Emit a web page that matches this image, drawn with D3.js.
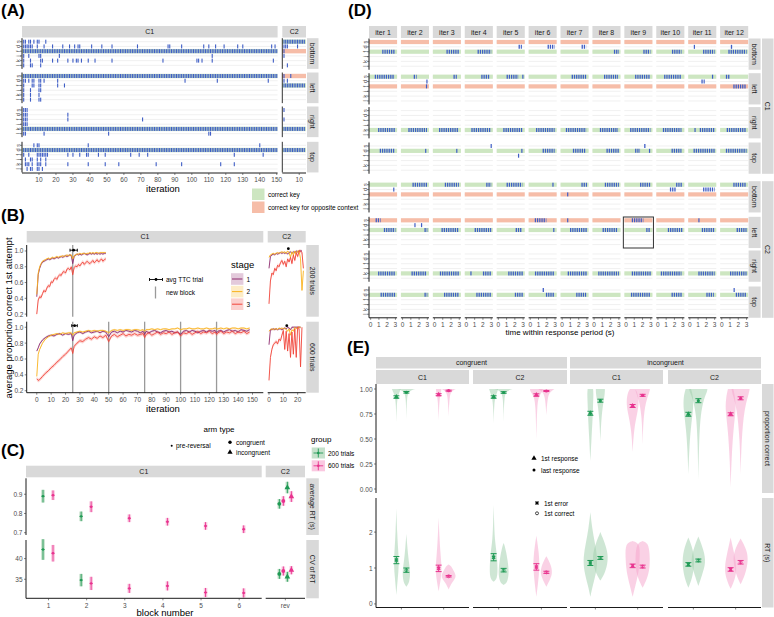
<!DOCTYPE html>
<html>
<head>
<meta charset="utf-8">
<script src="https://cdn.jsdelivr.net/npm/d3@7"></script>
<style>
body { margin: 0; background: #fff; }
svg { font-family: "Liberation Sans", Arial, sans-serif; }
</style>
</head>
<body>
<script>
// ---------- data ----------
const keys = ["s", "d", "f", "j", "k", "l"];
const arms = ["bottom", "left", "right", "top"];
const correctKey = {C1: {bottom: "f", left: "s", right: "k", top: "d"}, C2: {bottom: "s", left: "f", right: "k", top: "d"}};
const oppositeKey = {C1: {bottom: "s", left: "f"}, C2: {bottom: "f", left: "s"}};

// (A) key presses per iteration: [context, arm, key, iterations]
const aPresses = [
  ["C1", "bottom", "s", "1,2,4,5,7,9,10,14"],
  ["C1", "bottom", "d", "1-6,9,13,18,24,28,31,33,34,41,47,53,68,86,87,94,107,110,114,119,127,130,147,149"],
  ["C1", "bottom", "f", "1-150"],
  ["C1", "bottom", "j", "1,4,10,11,22,112"],
  ["C1", "bottom", "k", "1,5,11,12,18,21,27,30,32,33,35,39,43,53,83,103,104,106,112,148"],
  ["C1", "bottom", "l", "1,5,6,11"],
  ["C1", "left", "s", "1-150"],
  ["C1", "left", "d", "1,2,4,6,7,10,11,13,21,96,115,145"],
  ["C1", "left", "f", "1,6,7,10,11,21,25"],
  ["C1", "left", "j", "1,5,10,11"],
  ["C1", "left", "k", "1,5,10"],
  ["C1", "left", "l", "1,5,10,11"],
  ["C1", "right", "s", "1,2,3"],
  ["C1", "right", "d", "1,2,3,27"],
  ["C1", "right", "f", "1,2,3,27,71"],
  ["C1", "right", "j", "1,2,3"],
  ["C1", "right", "k", "1-150"],
  ["C1", "right", "l", "1,2,13,51,110,111"],
  ["C1", "top", "s", "7,9,10,39,140"],
  ["C1", "top", "d", "1-150"],
  ["C1", "top", "f", "1,4,9-15,27,30,34,38,39,45,49,64,69,74,125,142"],
  ["C1", "top", "j", "2,5,6,9,11,14"],
  ["C1", "top", "k", "2,3,4,6,9,10,11,14,27,39,49,57,79,94,117,125"],
  ["C1", "top", "l", "3,5,6,9,10,12"],
  ["C2", "bottom", "s", "1-13"],
  ["C2", "bottom", "d", "1,2,3,9"],
  ["C2", "bottom", "f", "1"],
  ["C2", "bottom", "j", "1"],
  ["C2", "bottom", "l", "3"],
  ["C2", "left", "s", "1,5"],
  ["C2", "left", "d", "1,3"],
  ["C2", "left", "f", "1-13"],
  ["C2", "right", "s", "1"],
  ["C2", "right", "f", "1"],
  ["C2", "right", "k", "1-13"],
  ["C2", "top", "d", "1-13"]
];

// (B) average proportion correct, stages 1..3
const bStages = ["1", "2", "3"];
const b200C1 = [
  [0.42,0.70,0.78,0.83,0.86,0.87,0.88,0.89,0.90,0.89,0.90,0.91,0.90,0.91,0.92,0.91,0.92,0.93,0.92,0.93,0.94,0.93,0.94,0.95,0.94,0.84,0.93,0.95,0.96,0.95,0.96,0.95,0.96,0.97,0.96,0.95,0.96,0.97,0.96,0.97,0.96,0.97,0.96,0.97,0.96,0.97,0.96,0.97,0.97],
  [0.45,0.72,0.80,0.84,0.87,0.88,0.89,0.90,0.91,0.90,0.91,0.92,0.91,0.92,0.93,0.92,0.93,0.93,0.94,0.93,0.94,0.95,0.94,0.95,0.95,0.90,0.94,0.95,0.96,0.96,0.97,0.96,0.97,0.97,0.96,0.97,0.97,0.98,0.97,0.98,0.97,0.98,0.98,0.97,0.98,0.98,0.98,0.98,0.98],
  [0.20,0.38,0.42,0.41,0.46,0.50,0.48,0.53,0.56,0.55,0.61,0.60,0.64,0.66,0.64,0.68,0.70,0.69,0.73,0.74,0.72,0.77,0.78,0.76,0.80,0.70,0.79,0.81,0.80,0.83,0.81,0.84,0.86,0.83,0.85,0.87,0.85,0.84,0.86,0.88,0.85,0.87,0.89,0.86,0.88,0.90,0.87,0.89,0.90]
];
const b600C1 = [
  [[0,.70],[1,.74],[2,.79],[4,.84],[6,.87],[8,.89],[10,.90],[12,.89],[14,.91],[16,.92],[18,.90],[20,.92],[22,.91],[24,.92],[25,.83],[26,.90],[28,.93],[30,.94],[32,.92],[34,.94],[36,.95],[38,.93],[40,.94],[42,.95],[44,.93],[46,.95],[48,.94],[50,.88],[52,.94],[54,.95],[56,.93],[58,.95],[60,.94],[62,.96],[64,.95],[66,.94],[68,.96],[70,.95],[72,.93],[74,.95],[75,.91],[76,.95],[78,.93],[80,.95],[82,.96],[84,.94],[86,.93],[88,.95],[90,.96],[92,.94],[94,.95],[96,.93],[98,.94],[100,.91],[102,.95],[104,.96],[106,.94],[108,.96],[110,.95],[112,.93],[114,.95],[116,.96],[118,.94],[120,.96],[122,.95],[124,.96],[125,.93],[126,.95],[128,.96],[130,.94],[132,.96],[134,.97],[136,.95],[138,.96],[140,.94],[142,.97],[144,.96],[146,.95],[148,.97]],
  [[0,.38],[1,.66],[2,.72],[4,.80],[6,.85],[8,.88],[10,.90],[12,.91],[14,.92],[16,.91],[18,.93],[20,.92],[22,.93],[24,.93],[25,.90],[26,.93],[28,.94],[30,.95],[32,.94],[34,.95],[36,.96],[38,.95],[40,.96],[42,.95],[44,.96],[46,.96],[48,.95],[50,.93],[52,.96],[54,.97],[56,.96],[58,.97],[60,.96],[62,.97],[64,.97],[66,.96],[68,.97],[70,.97],[72,.96],[74,.97],[75,.95],[76,.97],[78,.97],[80,.98],[82,.97],[84,.98],[86,.97],[88,.98],[90,.98],[92,.97],[94,.98],[96,.98],[98,.99],[100,.97],[102,.98],[104,.98],[106,.99],[108,.98],[110,.98],[112,.99],[114,.98],[116,.98],[118,.99],[120,.98],[122,.98],[124,.99],[125,.98],[126,.98],[128,.99],[130,.98],[132,.99],[134,.98],[136,.99],[138,.99],[140,.98],[142,.99],[144,.99],[146,.98],[148,.99]],
  [[0,.35],[1,.33],[2,.34],[4,.38],[6,.42],[8,.45],[10,.49],[12,.52],[14,.56],[16,.59],[18,.63],[20,.66],[22,.70],[24,.74],[25,.67],[26,.76],[28,.80],[30,.83],[32,.82],[34,.85],[36,.87],[38,.85],[40,.88],[42,.86],[44,.89],[46,.87],[48,.90],[50,.82],[52,.89],[54,.91],[56,.88],[58,.90],[60,.92],[62,.89],[64,.91],[66,.90],[68,.92],[70,.90],[72,.91],[74,.92],[75,.87],[76,.91],[78,.93],[80,.90],[82,.92],[84,.94],[86,.91],[88,.93],[90,.92],[92,.94],[94,.91],[96,.93],[98,.94],[100,.89],[102,.93],[104,.92],[106,.94],[108,.91],[110,.93],[112,.95],[114,.92],[116,.94],[118,.93],[120,.95],[122,.92],[124,.94],[125,.91],[126,.93],[128,.95],[130,.92],[132,.94],[134,.93],[136,.95],[138,.92],[140,.94],[142,.93],[144,.95],[146,.92],[148,.94]]
];
const b200C2 = [
  [0.78,0.93,0.95,0.96,0.95,0.97,0.96,0.97,0.98,0.97,0.98,0.97,0.98,0.96,0.98,0.99,0.97,0.99,0.98,1.0,0.99,1.0,1.0,1.0],
  [0.92,0.95,0.96,0.97,0.96,0.97,0.98,0.97,0.98,0.99,0.98,0.99,0.97,1.0,0.98,0.92,0.99,0.95,1.0,0.96,1.0,1.0,0.9,0.5,0.75],
  [0.33,0.62,0.72,0.70,0.78,0.75,0.82,0.80,0.85,0.88,0.83,0.87,0.80,0.90,0.86,0.92,0.84,0.95,0.88,0.98,0.93,1.0,1.0,0.98,0.78]
];
const b600C2 = [
  [0.78,0.97,0.97,0.98,0.97,0.98,0.97,0.98,0.98,0.97,0.98,0.99,0.98,1.0,0.99,0.97,1.0,1.0,1.0,1.0,1.0,1.0,1.0],
  [0.95,0.97,0.98,0.97,0.98,0.98,0.97,0.99,0.98,0.99,0.98,0.99,0.97,0.95,0.98,0.90,0.97,0.95,1.0,0.98,1.0,1.0,1.0],
  [0.33,0.62,0.72,0.78,0.80,0.82,0.79,0.85,0.83,0.90,0.96,0.72,0.95,0.70,0.92,0.62,0.94,0.66,0.98,0.62,1.0,0.98,0.50,1.0]
];
const bSE = [0.015, 0.012, 0.025];
const bBlocks200 = [25];
const bBlocks600 = [25, 50, 75, 100, 125];
// avg TTC trial: [group, context, centre, from, to, value]
const bTTC = [["200", "C1", 25.6, 23.1, 28.2, 1.01], ["600", "C1", 26.3, 24.3, 28.2, 1.02], ["200", "C2", 13.5, 13.5, 13.5, 1.03], ["600", "C2", 12.4, 12.4, 12.4, 1.02]];

// (C) [block, mean, error]
const cBlocks = [1, 2, 3, 4, 5, 6];
const cRT200 = [[1, 0.89, 0.033], [2, 0.785, 0.025]];
const cRT600 = [[1, 0.895, 0.025], [2, 0.835, 0.028], [3, 0.775, 0.02], [4, 0.757, 0.02], [5, 0.735, 0.02], [6, 0.718, 0.02]];
const cCV200 = [[1, 42.2, 2.5], [2, 34.8, 1.5]];
const cCV600 = [[1, 41.3, 2.0], [2, 34.0, 1.6], [3, 32.8, 1.1], [4, 33.4, 1.1], [5, 31.8, 1.1], [6, 31.7, 1.1]];
// reversal: [group, arm type, mean, error]
const cRevRT = [["200", "congruent", 0.85, 0.025], ["600", "congruent", 0.865, 0.025], ["200", "incongruent", 0.935, 0.03], ["600", "incongruent", 0.888, 0.028]];
const cRevCV = [["200", "congruent", 36.3, 1.2], ["600", "congruent", 37.0, 1.1], ["200", "incongruent", 35.6, 1.2], ["600", "incongruent", 37.2, 1.0]];

// (D) responses within period: [context, arm, iteration, key, from (s), to (s)]
const dIters = [1, 2, 3, 4, 5, 6, 7, 8, 9, 10, 11, 12];
const dRuns = [
  ["C1","bottom",1,"f",1.4,3.0],["C1","bottom",3,"f",1.45,2.95],["C1","bottom",4,"f",1.35,3.0],["C1","bottom",5,"d",2.45,2.85],["C1","bottom",6,"d",2.1,2.95],["C1","bottom",7,"d",2.35,2.9],["C1","bottom",8,"f",2.4,3.0],["C1","bottom",9,"f",2.1,2.95],["C1","bottom",10,"f",1.7,2.85],["C1","bottom",11,"d",0.55,0.55],["C1","bottom",11,"f",1.6,3.0],["C1","bottom",12,"d",1.1,1.3],["C1","bottom",12,"f",0.8,3.0],
  ["C1","left",1,"s",0.5,2.9],["C1","left",2,"s",1.35,1.7],["C1","left",2,"d",2.95,2.95],["C1","left",2,"f",2.9,2.9],["C1","left",3,"s",2.3,2.7],["C1","left",4,"s",1.8,2.8],["C1","left",5,"s",1.0,2.4],["C1","left",5,"s",2.97,2.97],["C1","left",7,"s",1.15,2.9],["C1","left",8,"s",1.2,2.9],["C1","left",9,"s",1.1,2.95],["C1","left",10,"s",0.75,2.85],["C1","left",11,"s",2.75,2.75],["C1","left",11,"d",1.4,1.8],["C1","left",12,"s",0.5,1.0],["C1","left",12,"f",1.4,3.0],
  ["C1","right",1,"k",0.9,3.0],["C1","right",2,"k",0.7,2.95],["C1","right",3,"k",0.55,2.95],["C1","right",4,"k",0.6,3.0],["C1","right",5,"k",0.6,2.97],["C1","right",6,"k",0.7,2.95],["C1","right",7,"k",0.45,2.9],["C1","right",8,"k",0.7,2.9],["C1","right",9,"k",0.5,2.95],["C1","right",10,"k",0.6,2.85],["C1","right",11,"k",0.63,0.63],["C1","right",11,"k",1.2,3.0],["C1","right",12,"k",0.6,3.0],
  ["C1","top",1,"d",1.1,2.9],["C1","top",2,"d",2.8,2.8],["C1","top",3,"d",2.7,2.7],["C1","top",4,"s",3.0,3.0],["C1","top",5,"d",2.85,2.85],["C1","top",5,"f",2.45,2.45],["C1","top",6,"d",1.5,2.95],["C1","top",7,"d",1.3,2.9],["C1","top",8,"d",1.5,3.0],["C1","top",9,"d",1.1,1.7],["C1","top",9,"d",2.85,2.85],["C1","top",9,"s",2.2,2.4],["C1","top",10,"d",1.65,2.85],["C1","top",11,"d",0.45,3.0],["C1","top",12,"d",0.5,3.0],
  ["C2","bottom",1,"d",2.8,2.8],["C2","bottom",2,"s",1.2,3.0],["C2","bottom",3,"s",1.25,2.95],["C2","bottom",4,"s",2.4,3.0],["C2","bottom",5,"s",1.0,2.9],["C2","bottom",6,"s",2.75,2.75],["C2","bottom",7,"s",2.33,3.0],["C2","bottom",7,"f",0.67,0.67],["C2","bottom",8,"s",1.3,3.0],["C2","bottom",9,"s",1.7,3.0],["C2","bottom",10,"s",2.2,3.0],["C2","bottom",10,"d",1.45,2.2],["C2","bottom",11,"d",1.6,3.0],["C2","bottom",12,"s",1.4,3.0],
  ["C2","left",1,"s",0.6,1.2],["C2","left",1,"f",1.6,3.0],["C2","left",2,"d",1.5,1.5],["C2","left",2,"d",2.3,2.3],["C2","left",2,"f",2.65,3.0],["C2","left",3,"f",0.85,2.95],["C2","left",4,"f",1.0,3.0],["C2","left",5,"f",2.1,2.9],["C2","left",6,"s",0.55,1.95],["C2","left",6,"f",2.85,2.85],["C2","left",7,"s",0.67,0.67],["C2","left",7,"f",0.95,3.0],["C2","left",8,"f",1.03,2.9],["C2","left",9,"s",0.7,2.1],["C2","left",9,"f",2.45,2.95],["C2","left",10,"f",1.2,2.95],["C2","left",11,"s",1.1,1.1],["C2","left",11,"f",1.45,3.0],["C2","left",12,"f",1.8,3.0],
  ["C2","right",1,"k",0.9,3.0],["C2","right",2,"k",1.08,2.95],["C2","right",3,"k",0.65,3.0],["C2","right",4,"k",0.55,0.55],["C2","right",4,"k",2.0,3.0],["C2","right",5,"k",1.2,2.97],["C2","right",6,"k",0.57,2.95],["C2","right",7,"k",0.67,3.0],["C2","right",8,"k",0.5,3.0],["C2","right",9,"k",0.7,3.0],["C2","right",10,"k",0.35,2.85],["C2","right",11,"k",1.03,3.0],["C2","right",12,"k",1.0,3.0],
  ["C2","top",1,"d",1.2,3.0],["C2","top",2,"d",2.65,3.0],["C2","top",3,"d",1.15,2.95],["C2","top",4,"d",1.2,3.0],["C2","top",5,"d",2.0,2.97],["C2","top",6,"s",1.5,1.75],["C2","top",6,"d",1.9,2.95],["C2","top",7,"d",1.7,2.9],["C2","top",9,"d",0.6,2.95],["C2","top",10,"d",1.65,2.95],["C2","top",11,"d",2.0,2.9],["C2","top",12,"s",1.5,1.5],["C2","top",12,"d",1.7,3.0]
];

// (E) cells and groups; per cell order: 200 1st, 200 last, 600 1st, 600 last
const eCells = [["congruent", "C1"], ["congruent", "C2"], ["incongruent", "C1"], ["incongruent", "C2"]];
const eGroups = ["200 trials", "600 trials"];
const ePropMean = [[0.92, 0.967, 0.943, 0.983], [0.92, 0.965, 0.94, 0.98], [0.757, 0.883, 0.83, 0.937], [0.747, 0.883, 0.747, 0.907]];
const ePropSE = [[0.012, 0.008, 0.01, 0.005], [0.012, 0.008, 0.012, 0.005], [0.02, 0.015, 0.015, 0.01], [0.02, 0.02, 0.015, 0.015]];
const eRTMean = [[1.22, 0.94, 0.99, 0.77], [1.3, 0.94, 1.03, 0.88], [1.14, 1.28, 1.06, 1.04], [1.1, 1.21, 0.96, 1.16]];
const eRTSE = [[0.1, 0.06, 0.09, 0.02], [0.1, 0.05, 0.09, 0.03], [0.07, 0.04, 0.05, 0.04], [0.05, 0.04, 0.05, 0.05]];
// violin outlines: [value, relative density]
const ePropViolin = [
  [[[0.67,0],[0.85,0.05],[0.92,0.15],[0.97,0.35],[1.0,0.5]], [[0.70,0],[0.93,0.05],[0.98,0.3],[1.0,1.0]], [[0.69,0],[0.9,0.08],[0.95,0.25],[1.0,0.3]], [[0.73,0],[0.95,0.1],[0.98,0.4],[1.0,0.8]]],
  [[[0.66,0],[0.85,0.06],[0.92,0.2],[0.97,0.4],[1.0,0.5]], [[0.68,0],[0.93,0.06],[0.98,0.35],[1.0,1.0]], [[0.50,0],[0.85,0.08],[0.93,0.3],[0.98,0.7],[1.0,0.7]], [[0.74,0],[0.95,0.15],[0.98,0.6],[1.0,0.9]]],
  [[[0.28,0],[0.5,0.12],[0.7,0.25],[0.85,0.3],[0.95,0.35],[1.0,0.3]], [[0.48,0],[0.7,0.1],[0.85,0.3],[0.95,0.5],[1.0,0.5]], [[0.37,0],[0.6,0.15],[0.75,0.5],[0.85,0.7],[0.95,0.6],[1.0,0.3]], [[0.45,0],[0.75,0.1],[0.9,0.45],[0.98,0.8],[1.0,0.8]]],
  [[[0.15,0],[0.4,0.1],[0.6,0.25],[0.8,0.55],[0.92,0.55],[1.0,0.3]], [[0.10,0],[0.5,0.08],[0.75,0.25],[0.9,0.6],[0.98,1.0],[1.0,1.0]], [[0.02,0],[0.3,0.1],[0.6,0.3],[0.8,0.6],[0.92,0.5],[1.0,0.3]], [[0.15,0],[0.5,0.1],[0.8,0.4],[0.95,0.9],[1.0,1.0]]]
];
const eRTViolin = [
  [[[0.25,0],[0.7,0.15],[1.1,0.3],[1.5,0.2],[2.0,0.08],[2.65,0]], [[0.48,0],[0.6,0.35],[0.9,0.45],[1.2,0.25],[1.6,0.1],[1.95,0]], [[0.35,0],[0.7,0.25],[1.0,0.35],[1.4,0.2],[1.9,0.08],[2.4,0]], [[0.4,0],[0.6,0.35],[0.75,0.9],[0.9,0.6],[1.05,0.3],[1.1,0]]],
  [[[0.62,0],[0.7,0.4],[1.0,0.45],[1.4,0.35],[1.8,0.12],[2.3,0.05],[2.75,0]], [[0.53,0],[0.6,0.45],[0.9,0.6],[1.2,0.45],[1.5,0.25],[1.7,0]], [[0.2,0],[0.6,0.2],[1.0,0.35],[1.4,0.3],[1.9,0]], [[0.48,0],[0.65,0.35],[0.85,0.7],[1.1,0.5],[1.33,0]]],
  [[[0.2,0],[0.5,0.25],[0.9,0.7],[1.3,0.8],[1.7,0.5],[2.1,0.2],[2.55,0]], [[0.65,0],[0.8,0.4],[1.1,0.8],[1.4,0.85],[1.7,0.5],[2.0,0]], [[0.2,0],[0.5,0.3],[0.9,0.7],[1.3,0.8],[1.7,0.8],[1.75,0]], [[0.45,0],[0.7,0.5],[1.0,0.8],[1.4,0.8],[1.7,0.6],[1.75,0]]],
  [[[0.45,0],[0.7,0.4],[1.1,0.7],[1.5,0.55],[1.85,0]], [[0.5,0],[0.8,0.4],[1.15,0.85],[1.5,0.6],[1.88,0]], [[0.42,0],[0.7,0.5],[1.0,0.7],[1.4,0.4],[1.85,0]], [[0.55,0],[0.8,0.5],[1.2,0.85],[1.5,0.7],[1.82,0]]]
];

// ---------- setup ----------
const svg = d3.select("body").append("svg").attr("width", 774).attr("height", 617);
const STRIP = "#D9D9D9", TXT = "#4D4D4D", BLUE = "#3F5EC6", GBAND = "#CDE6C1", SBAND = "#F6BDA8";
const stageCol = ["#8E2D6F", "#F9B21E", "#F1453A"];
const grpCol = {"200": "#1F9A55", "600": "#E8338E"};
const grpLight = {"200": "#9ECDA9", "600": "#F6A3CB"};

function strip(x, y, w, h, label, vertical) {
  svg.append("rect").attr("x", x).attr("y", y).attr("width", w).attr("height", h).attr("fill", STRIP);
  const t = svg.append("text").attr("font-size", 7).attr("fill", "#1a1a1a")
    .attr("text-anchor", "middle").attr("dominant-baseline", "central").text(label);
  if (vertical) t.attr("transform", `translate(${x + w / 2},${y + h / 2}) rotate(90)`);
  else t.attr("x", x + w / 2).attr("y", y + h / 2);
}
function line(x1, y1, x2, y2, col, w) {
  return svg.append("line").attr("x1", x1).attr("y1", y1).attr("x2", x2).attr("y2", y2)
    .attr("stroke", col || "#000").attr("stroke-width", w || 0.8);
}
function label(x, y, s, size, anchor, col) {
  return svg.append("text").attr("x", x).attr("y", y).attr("font-size", size || 7)
    .attr("fill", col || TXT).attr("text-anchor", anchor || "middle").attr("dominant-baseline", "central").text(s);
}
function panelLabel(s, x, y) {
  svg.append("text").attr("x", x).attr("y", y).attr("font-size", 17).attr("font-weight", "bold").text(s);
}
function parseRuns(str) {
  return str.split(",").flatMap(p => {
    const [a, b] = p.split("-").map(Number);
    return b ? d3.range(a, b + 1) : [a];
  });
}
// rotated key letters on a y axis
function keyAxis(xAxis, yScale) {
  const [y0, y1] = yScale.range();
  line(xAxis, y0 - 3.5, xAxis, y1 + 3.5, "#000", 0.9);
  keys.forEach(k => {
    line(xAxis - 2, yScale(k), xAxis, yScale(k), "#333", 0.6);
    svg.append("text").attr("font-size", 5.5).attr("fill", TXT).attr("text-anchor", "middle")
      .attr("dominant-baseline", "central")
      .attr("transform", `translate(${xAxis - 4.5},${yScale(k)}) rotate(-90)`).text(k);
  });
}

// ---------- (A) ----------
panelLabel("(A)", 1, 16);
const aX = {
  C1: d3.scaleLinear().domain([0, 150.5]).range([22, 277.6]),
  C2: d3.scaleLinear().domain([0, 14]).range([282.3, 306])
};
const aArmY = {bottom: 41.7, left: 76, right: 110, top: 145.3};
strip(22, 26, 255.6, 11.5, "C1");
strip(282.3, 26, 23.7, 11.5, "C2");
arms.forEach(arm => {
  const y = d3.scalePoint().domain(keys).range([aArmY[arm], aArmY[arm] + 5 * 4.73]);
  ["C1", "C2"].forEach(ctx => {
    const [xa, xb] = aX[ctx].range();
    keys.forEach(k => line(xa, y(k), xb, y(k), "#E6E6E6", 0.6));
    svg.append("rect").attr("x", xa).attr("y", y(correctKey[ctx][arm]) - 2.2).attr("width", xb - xa).attr("height", 4.4).attr("fill", GBAND);
    if (ctx === "C2" && oppositeKey.C2[arm])
      svg.append("rect").attr("x", xa).attr("y", y(oppositeKey.C2[arm]) - 2.2).attr("width", xb - xa).attr("height", 4.4).attr("fill", SBAND);
    aPresses.filter(p => p[0] === ctx && p[1] === arm).forEach(p => {
      svg.selectAll(null).data(parseRuns(p[3])).enter().append("rect")
        .attr("x", d => aX[ctx](d) - 0.55).attr("y", y(p[2]) - 2).attr("width", 1.1).attr("height", 4).attr("fill", BLUE);
    });
  });
  keyAxis(22, y);
  line(282.3, y("s") - 3.5, 282.3, y("l") + 3.5, "#000", 0.8);
  strip(307, y("s") - 3.5, 11.5, y("l") - y("s") + 7, arm, true);
});
line(22, 173, 277.6, 173, "#000", 0.9);
line(282.3, 173, 306, 173, "#000", 0.9);
d3.range(10, 151, 10).forEach(t => { line(aX.C1(t), 173, aX.C1(t), 175, "#333", 0.6); label(aX.C1(t), 179.5, t, 6.5); });
line(aX.C2(10), 173, aX.C2(10), 175, "#333", 0.6); label(aX.C2(10), 179.5, 10, 6.5);
label(163, 188.5, "iteration", 9.5, "middle", "#000");
// key legend
svg.append("rect").attr("x", 252).attr("y", 188.5).attr("width", 12.5).attr("height", 11.5).attr("fill", GBAND);
svg.append("rect").attr("x", 252).attr("y", 201.5).attr("width", 12.5).attr("height", 11.5).attr("fill", SBAND);
label(268, 194.5, "correct key", 6.5, "start", "#000");
label(268, 207.3, "correct key for opposite context", 6.5, "start", "#000");

// ---------- (B) ----------
panelLabel("(B)", 1, 221);
const bX = {
  C1: d3.scaleLinear().domain([-7, 157.5]).range([26.7, 263.3]),
  C2: d3.scaleLinear().domain([-0.9, 25.6]).range([267.7, 305.7])
};
const bY = {
  "200": d3.scaleLinear().domain([0.167, 1.076]).range([316.7, 245]),
  "600": d3.scaleLinear().domain([0.175, 1.07]).range([392.7, 321.7])
};
strip(26.7, 231, 236.6, 11.5, "C1");
strip(267.7, 231, 38, 11.5, "C2");
strip(306.3, 245, 12.5, 71.7, "200 trials", true);
strip(306.3, 321.7, 12.5, 71, "600 trials", true);
const bSeries = {"200": {C1: b200C1.map(s => s.map((v, i) => [i, v])), C2: b200C2.map(s => s.map((v, i) => [i, v]))},
                 "600": {C1: b600C1, C2: b600C2.map(s => s.map((v, i) => [i, v]))}};
["200", "600"].forEach(g => {
  const y = bY[g];
  const [yb, yt] = y.range();
  (g === "200" ? bBlocks200 : bBlocks600).forEach(b => line(bX.C1(b), yt, bX.C1(b), yb, "#9A9A9A", 1.3));
  ["C1", "C2"].forEach(ctx => {
    const x = bX[ctx];
    bSeries[g][ctx].forEach((s, si) => {
      svg.append("path").datum(s).attr("fill", stageCol[si]).attr("opacity", 0.22)
        .attr("d", d3.area().x(d => x(d[0])).y0(d => y(d[1] - bSE[si])).y1(d => y(Math.min(d[1] + bSE[si], 1.02))));
    });
    bSeries[g][ctx].forEach((s, si) => {
      svg.append("path").datum(s).attr("fill", "none").attr("stroke", stageCol[si]).attr("stroke-width", 0.9)
        .attr("d", d3.line().x(d => x(d[0])).y(d => y(d[1])));
    });
  });
  bTTC.filter(t => t[0] === g).forEach(t => {
    const x = bX[t[1]];
    if (t[4] > t[3]) {
      line(x(t[3]), y(t[5]), x(t[4]), y(t[5]), "#000", 0.9);
      line(x(t[3]), y(t[5]) - 1.5, x(t[3]), y(t[5]) + 1.5, "#000", 0.9);
      line(x(t[4]), y(t[5]) - 1.5, x(t[4]), y(t[5]) + 1.5, "#000", 0.9);
    }
    svg.append("circle").attr("cx", x(t[2])).attr("cy", y(t[5])).attr("r", 1.4).attr("fill", "#000");
  });
  line(26.7, yt, 26.7, yb, "#000", 0.9);
  [0.2, 0.4, 0.6, 0.8, 1.0].forEach(v => { line(24.7, y(v), 26.7, y(v), "#333", 0.6); label(23.5, y(v), v.toFixed(1), 6.5, "end"); });
});
line(26.7, 392.7, 263.3, 392.7, "#000", 0.9);
line(267.7, 392.7, 305.7, 392.7, "#000", 0.9);
d3.range(0, 151, 10).forEach(t => { line(bX.C1(t), 392.7, bX.C1(t), 394.7, "#333", 0.6); label(bX.C1(t), 399.5, t, 6.5); });
[0, 10, 20].forEach(t => { line(bX.C2(t), 392.7, bX.C2(t), 394.7, "#333", 0.6); label(bX.C2(t), 399.5, t, 6.5); });
label(163, 408.5, "iteration", 9.5, "middle", "#000");
svg.append("text").attr("font-size", 9.5).attr("text-anchor", "middle").attr("dominant-baseline", "central")
  .attr("transform", "translate(8,318) rotate(-90)").text("average proportion correct 1st attempt");
// B legend
line(149.5, 279.5, 162.5, 279.5, "#000", 0.9);
line(149.5, 278, 149.5, 281, "#000", 0.9);
line(162.5, 278, 162.5, 281, "#000", 0.9);
svg.append("circle").attr("cx", 156).attr("cy", 279.5).attr("r", 1.4);
label(166, 279.5, "avg TTC trial", 6.5, "start", "#000");
line(155.5, 286.5, 155.5, 298.5, "#9A9A9A", 1.3);
label(166, 292.5, "new block", 6.5, "start", "#000");
label(231, 264, "stage", 9.5, "start", "#000");
bStages.forEach((s, i) => {
  const yy = 279 + i * 12.6;
  svg.append("rect").attr("x", 231).attr("y", yy - 5.8).attr("width", 12.4).attr("height", 11.6).attr("fill", stageCol[i]).attr("opacity", 0.25);
  line(232, yy, 242.4, yy, stageCol[i], 1);
  label(246.5, yy, s, 6.5, "start", "#000");
});

// ---------- (C) ----------
panelLabel("(C)", 1, 456);
const cX = d3.scaleLinear().domain([0.41, 6.59]).range([26, 261.7]);
const cXRev = d3.scalePoint().domain(["rev"]).range([265.7, 305]).padding(0.5);
const cY = {
  rt: d3.scaleLinear().domain([0.688, 0.983]).range([535, 478.3]),
  cv: d3.scaleLinear().domain([30.4, 44.5]).range([598.3, 540])
};
strip(26, 465.7, 235.7, 11.6, "C1");
strip(265.7, 465.7, 39.3, 11.6, "C2");
strip(306.3, 478.3, 12.5, 56.7, "average RT (s)", true);
strip(306.3, 540, 12.5, 58.3, "CV of RT", true);
function cRange(x, y, m, e, g, shape) {
  svg.append("rect").attr("x", x - 1.8).attr("y", y(m + e)).attr("width", 3.6).attr("height", y(m - e) - y(m + e))
    .attr("fill", grpLight[g]).attr("opacity", 0.6);
  line(x, y(m + e), x, y(m - e), grpCol[g], 0.9);
  if (shape === "triangle")
    svg.append("path").attr("d", d3.symbol(d3.symbolTriangle, 14)()).attr("transform", `translate(${x},${y(m)})`).attr("fill", grpCol[g]);
  else
    svg.append("circle").attr("cx", x).attr("cy", y(m)).attr("r", shape === "circle" ? 1.9 : 1.2).attr("fill", grpCol[g]);
  line(x - 1.6, y(m), x + 1.6, y(m), grpCol[g], 0.9);
}
[["rt", cRT200, cRT600, cRevRT], ["cv", cCV200, cCV600, cRevCV]].forEach(([m, d200, d600, rev]) => {
  const y = cY[m];
  d200.forEach(d => cRange(cX(d[0]) - 5.5, y, d[1], d[2], "200", "dot"));
  d600.forEach(d => cRange(cX(d[0]) + 4.5, y, d[1], d[2], "600", "dot"));
  rev.forEach((d, i) => cRange(cXRev("rev") + (i - 1.5) * 4, y, d[2], d[3], d[0], d[1] === "congruent" ? "circle" : "triangle"));
  const [yb, yt] = y.range();
  line(26, yt, 26, yb, "#000", 0.9);
});
[0.7, 0.8, 0.9].forEach(v => { line(24, cY.rt(v), 26, cY.rt(v), "#333", 0.6); label(22.5, cY.rt(v), v.toFixed(1), 6.5, "end"); });
[35, 40].forEach(v => { line(24, cY.cv(v), 26, cY.cv(v), "#333", 0.6); label(22.5, cY.cv(v), v, 6.5, "end"); });
line(26, 598.3, 261.7, 598.3, "#000", 0.9);
line(265.7, 598.3, 305, 598.3, "#000", 0.9);
cBlocks.forEach(b => { line(cX(b), 598.3, cX(b), 600.3, "#333", 0.6); label(cX(b), 605, b, 6.5); });
line(cXRev("rev"), 598.3, cXRev("rev"), 600.3, "#333", 0.6); label(cXRev("rev"), 605, "rev", 6.5);
label(165, 612.5, "block number", 9.5, "middle", "#000");
// C legend
label(219, 429, "arm type", 8, "middle", "#000");
svg.append("circle").attr("cx", 171.7).attr("cy", 445.7).attr("r", 1).attr("fill", "#000");
label(176, 445.7, "pre-reversal", 6.5, "start", "#000");
svg.append("circle").attr("cx", 230).attr("cy", 442.3).attr("r", 1.7).attr("fill", "#000");
label(236, 442.3, "congruent", 6.5, "start", "#000");
svg.append("path").attr("d", d3.symbol(d3.symbolTriangle, 12)()).attr("transform", "translate(230,452.3)");
label(236, 452.3, "incongruent", 6.5, "start", "#000");
label(311, 439, "group", 8, "start", "#000");
["200", "600"].forEach((g, i) => {
  const yy = 453 + i * 12.8;
  svg.append("rect").attr("x", 311.7).attr("y", yy - 5.5).attr("width", 13.3).attr("height", 11).attr("fill", grpLight[g]).attr("opacity", 0.6);
  line(318.3, yy - 4.5, 318.3, yy + 4.5, grpCol[g], 0.9);
  line(313.5, yy, 323.2, yy, grpCol[g], 0.9);
  svg.append("circle").attr("cx", 318.3).attr("cy", yy).attr("r", 1.3).attr("fill", grpCol[g]);
  label(328, yy, g + " trials", 6.5, "start", "#000");
});

// ---------- (D) ----------
svg.append("rect").attr("x", 341).attr("y", 0).attr("width", 433).attr("height", 336).attr("fill", "none");
panelLabel("(D)", 348, 16);
const dFacet = d3.scaleBand().domain(dIters).range([369, 748.2]).paddingInner(0.12);
const dArmY = {C1: {bottom: 42, left: 76.7, right: 110.6, top: 146}, C2: {bottom: 184.7, left: 220.3, right: 254, top: 290}};
const dRowGap = 4.85;
dIters.forEach(i => strip(dFacet(i), 26, dFacet.bandwidth(), 12, "iter " + i));
["C1", "C2"].forEach(ctx => {
  arms.forEach(arm => {
    const y = d3.scalePoint().domain(keys).range([dArmY[ctx][arm], dArmY[ctx][arm] + 5 * dRowGap]);
    dIters.forEach(i => {
      const x0 = dFacet(i), bw = dFacet.bandwidth();
      const t = d3.scaleLinear().domain([-0.2, 3.2]).range([x0, x0 + bw]);
      keys.forEach(k => line(x0, y(k), x0 + bw, y(k), "#E6E6E6", 0.6));
      svg.append("rect").attr("x", x0).attr("y", y(correctKey[ctx][arm]) - 2.1).attr("width", bw).attr("height", 4.2).attr("fill", GBAND);
      if (oppositeKey[ctx][arm])
        svg.append("rect").attr("x", x0).attr("y", y(oppositeKey[ctx][arm]) - 2.1).attr("width", bw).attr("height", 4.2).attr("fill", SBAND);
      dRuns.filter(r => r[0] === ctx && r[1] === arm && r[2] === i).forEach(r => {
        if (r[5] - r[4] < 0.05)
          svg.append("rect").attr("x", t(r[4]) - 0.6).attr("y", y(r[3]) - 2).attr("width", 1.2).attr("height", 4).attr("fill", BLUE);
        else
          line(t(r[4]), y(r[3]), t(r[5]), y(r[3]), BLUE, 4).attr("stroke-dasharray", "1.3,0.9");
      });
    });
    keyAxis(369, y);
    strip(748.6, y("s") - 3.5, 12, y("l") - y("s") + 7, arm, true);
  });
});
strip(762, 38.5, 11.5, 173.8 - 38.5, "C1", true);
strip(762, 181.2, 11.5, 317.8 - 181.2, "C2", true);
dIters.forEach(i => {
  const x0 = dFacet(i), bw = dFacet.bandwidth();
  const t = d3.scaleLinear().domain([-0.2, 3.2]).range([x0, x0 + bw]);
  line(x0, 317.8, x0 + bw, 317.8, "#000", 0.9);
  [0, 1, 2, 3].forEach(v => { line(t(v), 317.8, t(v), 319.8, "#333", 0.6); label(t(v), 324, v, 6.5); });
});
label(560, 332.5, "time within response period (s)", 8, "middle", "#000");
svg.append("rect").attr("x", dFacet(9) - 1).attr("y", 217).attr("width", dFacet.bandwidth() + 2).attr("height", 31)
  .attr("fill", "none").attr("stroke", "#333").attr("stroke-width", 1);

// ---------- (E) ----------
panelLabel("(E)", 347, 353);
const eSub = [[376, 469], [473, 567], [570, 663], [668, 761]];
const eY = {
  prop: d3.scaleLinear().domain([-0.04, 1.05]).range([493, 384]),
  rt: d3.scaleLinear().domain([-0.1, 2.95]).range([607.5, 498])
};
strip(376, 357, 191, 11.5, "congruent");
strip(570, 357, 191, 11.5, "incongruent");
eCells.forEach((c, ci) => strip(eSub[ci][0], 370, eSub[ci][1] - eSub[ci][0], 14, c[1]));
strip(762, 384, 11.5, 109, "proportion correct", true);
strip(762, 498, 11.5, 109.5, "RT (s)", true);
const eX = d3.scalePoint().domain(eGroups).padding(0.6);
[["prop", ePropViolin, ePropMean, ePropSE], ["rt", eRTViolin, eRTMean, eRTSE]].forEach(([m, viol, mean, se]) => {
  const y = eY[m];
  eCells.forEach((c, ci) => {
    eX.range(eSub[ci]);
    eGroups.forEach((g, gi) => {
      const gk = g.slice(0, 3);
      [0, 1].forEach(ri => {
        const cx = eX(g) + (ri ? 5 : -5);
        svg.append("path").datum(viol[ci][gi * 2 + ri]).attr("fill", grpLight[gk]).attr("opacity", 0.5)
          .attr("d", d3.area().curve(d3.curveBasis).y(d => y(d[0])).x0(d => cx - d[1] * 9).x1(d => cx + d[1] * 9));
      });
    });
    eGroups.forEach((g, gi) => {
      const gk = g.slice(0, 3);
      [0, 1].forEach(ri => {
        const cx = eX(g) + (ri ? 5 : -5);
        const mu = mean[ci][gi * 2 + ri], e = se[ci][gi * 2 + ri];
        line(cx, y(mu + e), cx, y(mu - e), grpCol[gk], 1);
        line(cx - 3, y(mu + e), cx + 3, y(mu + e), grpCol[gk], 1);
        line(cx - 3, y(mu - e), cx + 3, y(mu - e), grpCol[gk], 1);
        if (m === "prop") {
          if (ri === 0) svg.append("path").attr("d", d3.symbol(d3.symbolTriangle, 12)()).attr("transform", `translate(${cx},${y(mu)})`).attr("fill", grpCol[gk]);
          else svg.append("circle").attr("cx", cx).attr("cy", y(mu)).attr("r", 1.6).attr("fill", grpCol[gk]);
        } else {
          if (ri === 0) svg.append("path").attr("d", d3.symbol(d3.symbolCross, 10)()).attr("transform", `translate(${cx},${y(mu)}) rotate(45)`).attr("fill", grpCol[gk]);
          else svg.append("circle").attr("cx", cx).attr("cy", y(mu)).attr("r", 1.5).attr("fill", "none").attr("stroke", grpCol[gk]).attr("stroke-width", 0.8);
        }
      });
    });
  });
  const [yb, yt] = y.range();
  line(376, yt, 376, yb, "#000", 0.9);
});
[0, 0.25, 0.5, 0.75, 1].forEach(v => { line(374, eY.prop(v), 376, eY.prop(v), "#333", 0.6); label(372.5, eY.prop(v), v.toFixed(2), 6.5, "end"); });
[0, 1, 2].forEach(v => { line(374, eY.rt(v), 376, eY.rt(v), "#333", 0.6); label(372.5, eY.rt(v), v, 6.5, "end"); });
eSub.forEach(s => {
  line(s[0], 607.5, s[1], 607.5, "#000", 0.9);
  eX.range(s);
  eGroups.forEach(g => line(eX(g), 607.5, eX(g), 609.5, "#333", 0.6));
});
// E legends
svg.append("path").attr("d", d3.symbol(d3.symbolTriangle, 12)()).attr("transform", "translate(534,458.3)");
label(541, 458.3, "1st response", 6.5, "start", "#000");
svg.append("circle").attr("cx", 534).attr("cy", 470).attr("r", 1.5);
label(541, 470, "last response", 6.5, "start", "#000");
svg.append("path").attr("d", d3.symbol(d3.symbolCross, 10)()).attr("transform", "translate(537,503) rotate(45)");
label(544, 503, "1st error", 6.5, "start", "#000");
svg.append("circle").attr("cx", 537).attr("cy", 513.3).attr("r", 1.5).attr("fill", "none").attr("stroke", "#000").attr("stroke-width", 0.7);
label(544, 513.3, "1st correct", 6.5, "start", "#000");
</script>
</body>
</html>
